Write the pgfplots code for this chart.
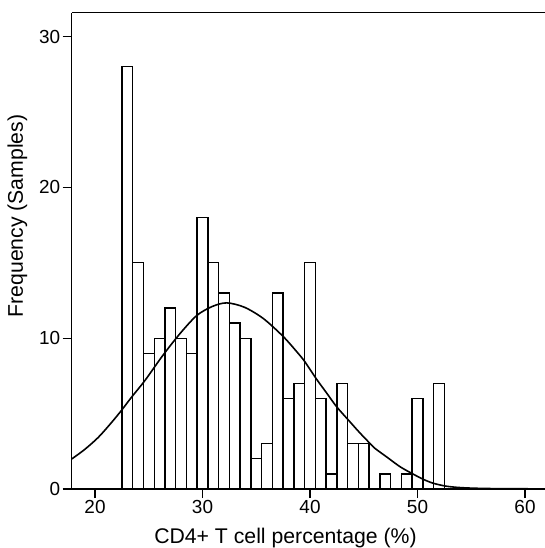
\documentclass[border=0pt]{standalone}
\usepackage{fontspec}
\setmainfont{Liberation Sans}
\usepackage{pgfplots}
\pgfplotsset{compat=1.18}
\begin{document}
\begin{tikzpicture}
\begin{axis}[
  scale only axis,
  width=473.3bp, height=476.3bp,
  xmin=17.83, xmax=61.86,
  ymin=0, ymax=31.58,
  axis x line*=bottom,
  axis y line*=left,
  axis line style={-, line width=1.3pt},
  xtick={20,30,40,50,60},
  ytick={0,10,20,30},
  tick align=outside,
  major tick length=9bp,
  tick style={line width=1.3pt, black},
  /pgf/number format/assume math mode=true,
  ticklabel style={font=\fontsize{19}{22}\selectfont},
  xticklabel style={yshift=1bp},
  yticklabel style={xshift=1bp},
  xlabel={CD4+ T cell percentage (\%)},
  ylabel={Frequency (Samples)},
  xlabel style={font=\fontsize{21.3}{25}\selectfont, at={(axis description cs:0.4517,-0.1134)}, anchor=base},
  ylabel style={font=\fontsize{21.3}{25}\selectfont, at={(axis description cs:-0.1029,0.5732)}, anchor=base},
  clip=true,
]
\addplot[ybar interval, fill=white, draw=black, line width=1.3pt] coordinates {
(22.5,28) (23.5,15) (24.5,9) (25.5,10) (26.5,12) (27.5,10) (28.5,9) (29.5,18)
(30.5,15) (31.5,13) (32.5,11) (33.5,10) (34.5,2) (35.5,3) (36.5,13) (37.5,6)
(38.5,7) (39.5,15) (40.5,6) (41.5,1) (42.5,7) (43.5,3) (44.5,3) (45.5,0)
(46.5,1) (47.5,0) (48.5,1) (49.5,6) (50.5,0) (51.5,7) (52.5,7)
};
\addplot[smooth, black, line width=1.6pt] coordinates {
(17.83,1.99) (19,2.6) (20.3,3.42) (21.5,4.38) (22.48,5.23) (23.41,6.1)
(24.65,7.2) (26.3,8.85) (27.9,10.3) (29.46,11.5) (30.9,12.1) (32.25,12.34)
(33.9,12.05) (35.66,11.3) (37.52,10.1) (38.9,8.99) (39.53,8.43) (40.56,7.33)
(41.5,6.41) (42.48,5.45) (43.57,4.57) (44.6,3.75) (45.58,3.02) (46.05,2.69)
(47.2,2.09) (48.37,1.48) (49.46,1.04) (50.54,0.64) (51.47,0.38) (52.56,0.2)
(53.5,0.12) (54.6,0.07) (56,0.04) (58,0.02) (62,0.01)
};
\end{axis}
\draw[line width=1.3pt] (current axis.north west) -- (current axis.north east);
\pgfresetboundingbox
\path[use as bounding box] (-71.7bp,-59bp) rectangle ++(545bp,548bp);
\end{tikzpicture}
\end{document}
